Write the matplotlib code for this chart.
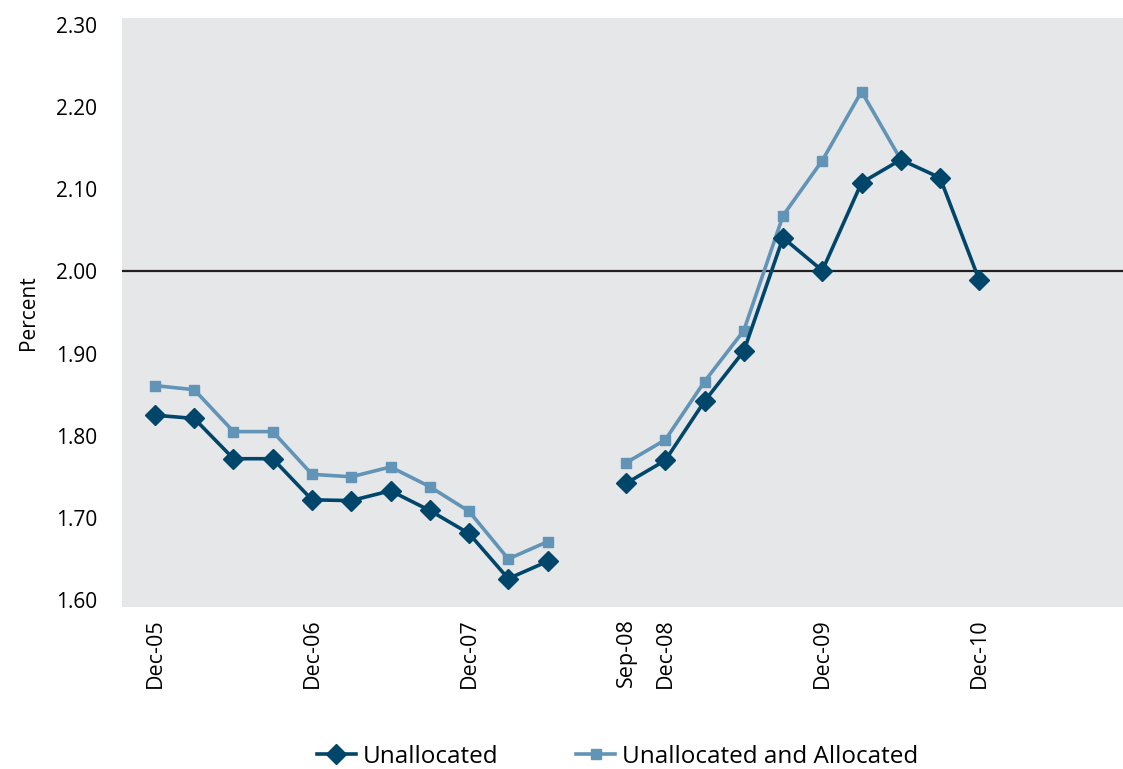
import matplotlib
matplotlib.use("Agg")
import matplotlib.pyplot as plt
import numpy as np

plt.rcParams['font.family'] = ['Open Sans', 'DejaVu Sans']

# category positions (quarterly, one blank slot between Jun-08 and Sep-08)
quarters = ["Dec-05", "Mar-06", "Jun-06", "Sep-06", "Dec-06", "Mar-07", "Jun-07",
            "Sep-07", "Dec-07", "Mar-08", "Jun-08", "", "Sep-08", "Dec-08", "Mar-09",
            "Jun-09", "Sep-09", "Dec-09", "Mar-10", "Jun-10", "Sep-10", "Dec-10"]
unallocated = [1.825, 1.821, 1.772, 1.772, 1.722, 1.721, 1.733, 1.709, 1.681, 1.626,
               1.647, np.nan, 1.742, 1.770, 1.842, 1.903, 2.041, 2.001, 2.108, 2.136,
               2.114, 1.989]
unalloc_alloc = [1.861, 1.856, 1.805, 1.805, 1.753, 1.750, 1.762, 1.738, 1.708, 1.650,
                 1.671, np.nan, 1.767, 1.795, 1.866, 1.928, 2.068, 2.135, 2.219, 2.136,
                 np.nan, np.nan]
tick_labels = ["Dec-05", "Dec-06", "Dec-07", "Sep-08", "Dec-08", "Dec-09", "Dec-10"]
y_ticks = [1.60, 1.70, 1.80, 1.90, 2.00, 2.10, 2.20, 2.30]

c_dark = "#00466b"
c_light = "#6194b6"

fig = plt.figure(figsize=(11.23, 7.69), dpi=100)
ax = fig.add_axes([122 / 1123, 1 - 607 / 769, 1001 / 1123, 589 / 769])
ax.set_facecolor("#e6e7e8")

x = np.arange(len(quarters))
ax.axhline(2.0, color="#231f20", lw=1.6, zorder=1)
ax.plot(x, unalloc_alloc, color=c_light, lw=2.6, marker="s", ms=7,
        label="Unallocated and Allocated", zorder=2)
ax.plot(x, unallocated, color=c_dark, lw=2.6, marker="D", ms=10,
        label="Unallocated", zorder=3)

ax.set_xlim(-0.84, 24.66)
ax.set_ylim(1.5915, 2.3085)
ax.set_yticks(y_ticks)
ax.set_yticklabels([f"{v:.2f}" for v in y_ticks], fontsize=15)
ax.set_xticks([quarters.index(t) for t in tick_labels])
ax.set_xticklabels(tick_labels, rotation=90, fontsize=15.5)
ax.tick_params(length=0, pad=8)
ax.tick_params(axis="y", pad=18)
for s in ax.spines.values():
    s.set_visible(False)
ax.set_ylabel("Percent", fontsize=15, labelpad=12)

h, l = ax.get_legend_handles_labels()
fig.legend(h[::-1], l[::-1], loc="center", bbox_to_anchor=(0.55, 1 - 757 / 769),
           ncol=2, frameon=False, fontsize=17.5, handlelength=1.6, columnspacing=3.2,
           handletextpad=0.3)

fig.savefig("out.png", dpi=100)
